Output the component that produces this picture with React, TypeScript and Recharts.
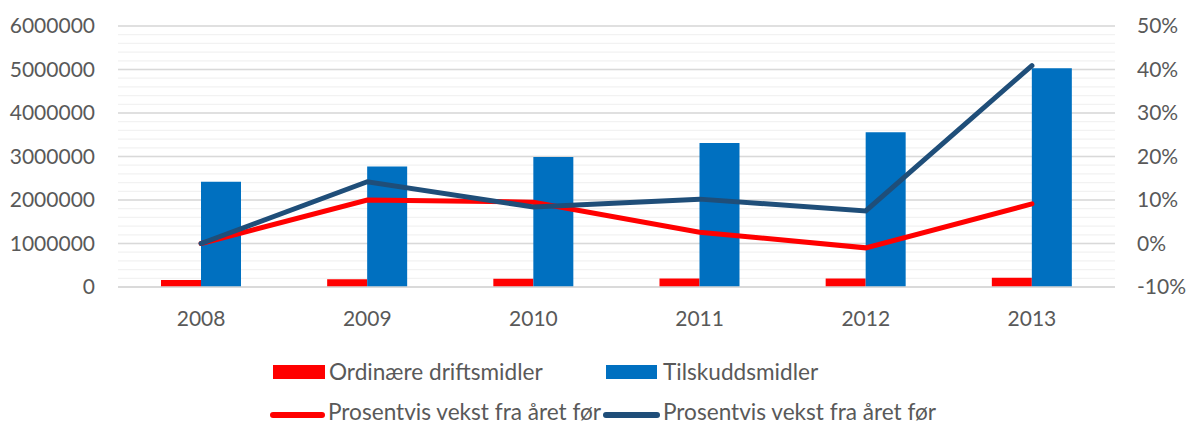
import { ComposedChart, Bar, Line, XAxis, YAxis, CartesianGrid, Legend } from 'recharts'

const years = ['2008', '2009', '2010', '2011', '2012', '2013']
const ordinaere = [160000, 180000, 190000, 195000, 195000, 215000]
const tilskudd = [2420000, 2770000, 2990000, 3310000, 3560000, 5030000]
const vekstOrdinaere = [0, 0.1, 0.095, 0.026, -0.01, 0.091]
const vekstTilskudd = [0, 0.142, 0.084, 0.102, 0.075, 0.409]

const leftTicks = [0, 1000000, 2000000, 3000000, 4000000, 5000000, 6000000]
const rightTicks = [-0.1, 0, 0.1, 0.2, 0.3, 0.4, 0.5]
// minor grid every 200000
const minorTicks = Array.from({ length: 31 }, (_, i) => i * 200000)

const RED = '#FF0000'
const BLUE = '#0070C0'
const NAVY = '#1F4E79'
const TEXT = '#595959'
const FONT = 'Lato, "Open Sans", sans-serif'

const data = years.map((year, i) => ({
  year,
  ordinaere: ordinaere[i],
  tilskudd: tilskudd[i],
  vekstOrdinaere: vekstOrdinaere[i],
  vekstTilskudd: vekstTilskudd[i],
}))

const legendText = { position: 'absolute' as const, fontSize: 22.6, color: TEXT, fontFamily: FONT, lineHeight: '24px', whiteSpace: 'nowrap' as const }

const CustomLegend = () => (
  <div style={{ position: 'relative', width: 1186, height: 98 }}>
    <div style={{ position: 'absolute', left: 273, top: 38, width: 52, height: 14, background: RED }} />
    <div style={{ ...legendText, left: 329, top: 33 }}>Ordinære driftsmidler</div>
    <div style={{ position: 'absolute', left: 606, top: 38, width: 51, height: 14, background: BLUE }} />
    <div style={{ ...legendText, left: 663, top: 33 }}>Tilskuddsmidler</div>
    <div style={{ position: 'absolute', left: 270, top: 85, width: 55, height: 6, borderRadius: 3, background: RED }} />
    <div style={{ ...legendText, left: 328, top: 73 }}>Prosentvis vekst fra året før</div>
    <div style={{ position: 'absolute', left: 603, top: 85, width: 57, height: 6, borderRadius: 3, background: NAVY }} />
    <div style={{ ...legendText, left: 663, top: 73 }}>Prosentvis vekst fra året før</div>
  </div>
)

export default function App() {
  const tick = { fill: TEXT, fontSize: 21, fontFamily: FONT }
  return (
    <div style={{ position: 'absolute', left: 0, top: 0, background: '#fff' }}>
      <ComposedChart
        width={1186}
        height={425}
        data={data}
        margin={{ top: 26, right: 0, bottom: 0, left: 0 }}
        barSize={40}
        barGap={0}
      >
        <CartesianGrid yAxisId="left" vertical={false} horizontalValues={minorTicks} stroke="#F2F2F2" strokeWidth={1.3} />
        <CartesianGrid yAxisId="left" vertical={false} horizontalValues={leftTicks} stroke="#D9D9D9" strokeWidth={1.3} />
        <XAxis
          dataKey="year"
          height={40}
          tick={tick}
          tickLine={false}
          tickSize={0}
          tickMargin={24}
          axisLine={{ stroke: '#D9D9D9', strokeWidth: 1.3 }}
        />
        <YAxis
          yAxisId="left"
          width={118}
          domain={[0, 6000000]}
          ticks={leftTicks}
          tick={tick}
          tickLine={false}
          tickSize={0}
          tickMargin={23}
          axisLine={false}
          interval={0}
        />
        <YAxis
          yAxisId="right"
          orientation="right"
          width={71}
          domain={[-0.1, 0.5]}
          ticks={rightTicks}
          tickFormatter={(v: number) => `${Math.round(v * 100)}%`}
          tick={{ ...tick, textAnchor: 'start' }}
          tickLine={false}
          tickSize={0}
          tickMargin={22}
          axisLine={false}
          interval={0}
        />
        <Bar yAxisId="left" dataKey="ordinaere" name="Ordinære driftsmidler" fill={RED} isAnimationActive={false} />
        <Bar yAxisId="left" dataKey="tilskudd" name="Tilskuddsmidler" fill={BLUE} isAnimationActive={false} />
        <Line
          yAxisId="right"
          dataKey="vekstOrdinaere"
          name="Prosentvis vekst fra året før"
          stroke={RED}
          strokeWidth={5}
          strokeLinecap="round"
          dot={false}
          activeDot={false}
          isAnimationActive={false}
        />
        <Line
          yAxisId="right"
          dataKey="vekstTilskudd"
          name="Prosentvis vekst fra året før"
          stroke={NAVY}
          strokeWidth={5}
          strokeLinecap="round"
          dot={false}
          activeDot={false}
          isAnimationActive={false}
        />
        <Legend
          verticalAlign="bottom"
          content={() => <CustomLegend />}
          wrapperStyle={{ left: 0, width: 1186, height: 98, bottom: 0 }}
        />
      </ComposedChart>
    </div>
  )
}
